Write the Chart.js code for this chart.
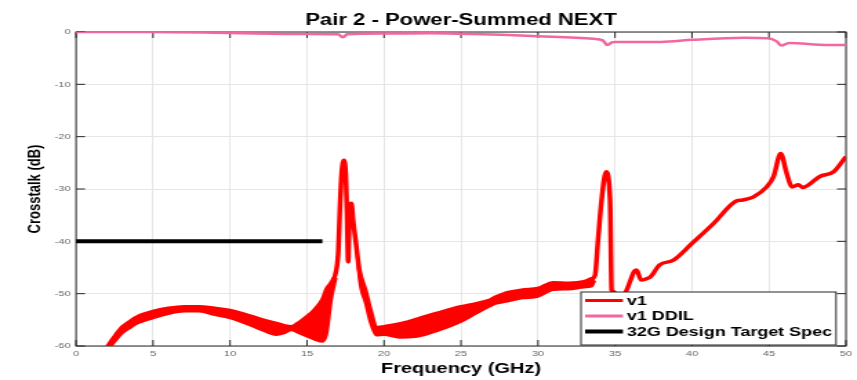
<!DOCTYPE html>
<html>
<head>
<meta charset="utf-8">
<script src="https://cdn.jsdelivr.net/npm/chart.js@4.4.1/dist/chart.umd.min.js"></script>
<style>
  html, body { margin: 0; padding: 0; background: #fff; }
</style>
</head>
<body>
<canvas id="psnext" width="621" height="380" style="display:block;width:857px;height:380px"></canvas>
<script>
// v1 crosstalk (upper edge of the ripple band where there is one)
const v1Freq = [1.85, 2.0, 2.5, 3.0, 3.5, 4.0, 5.0, 6.0, 7.0, 8.0, 9.0, 10.0, 11.0, 12.0, 13.0, 13.5, 14.0, 14.5,
  15.0, 15.5, 16.0, 16.3, 16.6, 16.9, 17.03, 17.14, 17.25, 17.4, 17.52, 17.6, 17.67, 17.74, 17.82, 17.88, 17.99,
  18.18, 18.4, 18.8, 19.1, 19.5, 20.0, 21.0, 22.0, 23.0, 24.0, 25.0, 26.0, 26.9, 27.3, 28.0, 29.0, 30.0, 31.0,
  32.0, 33.0, 33.5, 33.7, 33.9, 34.13, 34.42, 34.68, 34.78, 34.9, 35.2, 35.5, 35.76, 36.0, 36.2, 36.4, 36.7, 37.0,
  37.3, 37.9, 38.8, 40.0, 41.4, 42.8, 43.3, 44.0, 44.85, 45.3, 45.76, 46.15, 46.5, 46.9, 47.2, 48.3, 49.2, 50.0];
const v1Db = [-61, -60.3, -58.2, -56.4, -55.3, -54.4, -53.4, -52.8, -52.5, -52.5, -52.8, -53.2, -54.0, -54.9, -55.7, -56.1, -56.3, -55.5,
  -54.4, -53.1, -51.2, -49.0, -47.8, -45.5, -42.0, -33.4, -27.0, -24.5, -27.5, -35.0, -43.9, -37.0, -33.0, -32.7, -35.9,
  -40.4, -45.5, -49.5, -53.0, -56.5, -56.3, -55.8, -55.0, -54.1, -53.3, -52.5, -51.9, -51.2, -50.6, -49.8, -49.3, -49.0, -47.9,
  -48.0, -47.7, -47.1, -46.5, -39.7, -32.1, -26.7, -32.1, -49.3, -49.6, -50.5, -50.5, -49.3, -47.5, -46.0, -45.5, -47.4, -47.2,
  -46.8, -44.5, -43.6, -40.4, -36.6, -32.4, -32.1, -31.5, -29.6, -27.6, -23.2, -27.0, -29.6, -29.2, -29.7, -27.6, -26.7, -23.8];

// lower edge of the ripple band, below the peak and after it
const bandAFreq = [2.0, 2.5, 3.0, 3.5, 4.0, 5.0, 6.0, 7.0, 8.0, 9.0, 10.0, 11.0, 12.0, 13.0, 13.5, 14.0, 14.5, 15.0, 15.5, 16.0, 16.3, 16.6, 16.9];
const bandALow = [-61, -59.3, -57.6, -56.6, -55.7, -54.7, -53.9, -53.4, -53.4, -54.1, -54.7, -55.7, -56.9, -57.9, -57.6, -57.0, -57.6, -58.2, -58.8, -59.2, -57.6, -51.0, -47.0];
const bandBFreq = [18.2, 18.4, 18.8, 19.1, 19.5, 20.0, 21.0, 22.0, 23.0, 24.0, 25.0, 26.0, 26.9, 27.3, 28.0, 29.0, 30.0, 31.0, 32.0, 33.0, 33.5, 33.7];
const bandBLow = [-40.8, -47.5, -52.0, -55.5, -58.0, -57.9, -58.4, -58.3, -57.6, -56.6, -55.4, -53.8, -52.4, -51.9, -51.5, -50.9, -50.6, -49.3, -49.2, -48.8, -48.6, -47.5];

// v1 DDIL
const ddilFreq = [0, 5, 10, 15, 17.0, 17.35, 17.6, 20, 23, 25, 30, 33.6, 34.2, 34.5, 34.8, 35, 38, 40, 43.4, 44.9, 45.5, 45.8, 46.3, 48.8, 50];
const ddilDb = [0, 0, -0.2, -0.4, -0.45, -1.0, -0.45, -0.3, -0.25, -0.35, -0.8, -1.3, -1.6, -2.5, -2.0, -1.9, -1.9, -1.5, -1.1, -1.2, -1.8, -2.6, -2.1, -2.5, -2.5];

// 32G design target spec
const specFreq = [0, 16];
const specDb = [-40, -40];

const legendLabels = ['v1', 'v1 DDIL', '32G Design Target Spec'];
const legendColors = ['#ff0000', '#f2679f', '#000000'];

const pts = (xs, ys) => xs.map((x, i) => ({ x: x, y: ys[i] }));

Chart.defaults.font.family = "'Liberation Sans', Arial, Helvetica, sans-serif";

// MATLAB style box with inward ticks on all four sides
const boxTicks = {
  id: 'boxTicks',
  beforeDatasetsDraw(chart) {
    const { ctx, chartArea: a, scales: { x, y } } = chart;
    ctx.save();
    ctx.strokeStyle = '#262626';
    ctx.lineWidth = 1;
    ctx.strokeRect(a.left, a.top, a.right - a.left, a.bottom - a.top);
    ctx.beginPath();
    x.ticks.forEach(t => {
      const px = x.getPixelForValue(t.value);
      ctx.moveTo(px, a.bottom); ctx.lineTo(px, a.bottom - 6);
      ctx.moveTo(px, a.top); ctx.lineTo(px, a.top + 6);
    });
    y.ticks.forEach(t => {
      const py = y.getPixelForValue(t.value);
      ctx.moveTo(a.left, py); ctx.lineTo(a.left + 6.5, py);
      ctx.moveTo(a.right, py); ctx.lineTo(a.right - 6.5, py);
    });
    ctx.stroke();
    ctx.restore();
  }
};

// legend box in the lower right corner of the plot
const cornerLegend = {
  id: 'cornerLegend',
  afterDatasetsDraw(chart) {
    const { ctx, chartArea: a } = chart;
    const w = 184.8, h = 53;
    const right = a.right - 7.2, bottom = a.bottom - 1;
    const left = right - w, top = bottom - h;
    ctx.save();
    ctx.fillStyle = '#fff';
    ctx.fillRect(left, top, w, h);
    ctx.strokeStyle = '#262626';
    ctx.lineWidth = 1;
    ctx.strokeRect(left, top, w, h);
    const rows = [8.5, 24, 39.5];
    const widths = [3, 3, 4];
    ctx.font = "bold 13px 'Liberation Sans', Arial, sans-serif";
    ctx.textBaseline = 'middle';
    legendLabels.forEach((lab, i) => {
      const yy = top + rows[i];
      ctx.strokeStyle = legendColors[i];
      ctx.lineWidth = widths[i];
      ctx.beginPath();
      ctx.moveTo(left + 3, yy);
      ctx.lineTo(left + 30.4, yy);
      ctx.stroke();
      ctx.fillStyle = '#000';
      ctx.fillText(lab, left + 33.3, yy + 0.5);
    });
    ctx.restore();
  }
};

new Chart(document.getElementById('psnext'), {
  type: 'line',
  data: {
    datasets: [
      {
        label: 'v1',
        data: pts(v1Freq, v1Db),
        borderColor: '#ff0000',
        borderWidth: 3.5,
        pointRadius: 0,
        cubicInterpolationMode: 'monotone',
        fill: false,
        clip: 0
      },
      {
        label: 'v1 band',
        data: pts(bandAFreq, bandALow),
        borderColor: '#ff0000',
        backgroundColor: '#ff0000',
        borderWidth: 2,
        pointRadius: 0,
        cubicInterpolationMode: 'monotone',
        fill: 0,
        clip: 0
      },
      {
        label: 'v1 band 2',
        data: pts(bandBFreq, bandBLow),
        borderColor: '#ff0000',
        backgroundColor: '#ff0000',
        borderWidth: 2,
        pointRadius: 0,
        cubicInterpolationMode: 'monotone',
        fill: 0,
        clip: 0
      },
      {
        label: 'v1 DDIL',
        data: pts(ddilFreq, ddilDb),
        borderColor: '#f2679f',
        borderWidth: 2.5,
        pointRadius: 0,
        cubicInterpolationMode: 'monotone',
        fill: false
      },
      {
        label: '32G Design Target Spec',
        data: pts(specFreq, specDb),
        borderColor: '#000000',
        borderWidth: 4,
        pointRadius: 0,
        fill: false
      }
    ]
  },
  options: {
    responsive: false,
    animation: false,
    devicePixelRatio: 1,
    layout: { padding: { left: 0, right: 8, top: 0, bottom: 0 } },
    plugins: {
      legend: { display: false },
      tooltip: { enabled: false },
      title: {
        display: true,
        text: 'Pair 2 - Power-Summed NEXT',
        fullSize: false,
        color: '#000',
        font: { size: 16, weight: 'bold', lineHeight: 1.2 },
        padding: { top: 11, bottom: 1.8 }
      }
    },
    scales: {
      x: {
        type: 'linear',
        min: 0,
        max: 50,
        afterFit(scale) { scale.height = 34; },
        ticks: { stepSize: 5, color: '#666', font: { size: 8 }, padding: 3, maxRotation: 0 },
        grid: { color: '#e6e6e6', lineWidth: 1, drawTicks: false },
        border: { display: false },
        title: {
          display: true,
          text: 'Frequency (GHz)',
          color: '#000',
          font: { size: 14.5, weight: 'bold', lineHeight: 1.2 },
          padding: { top: 0, bottom: 2.3 }
        }
      },
      y: {
        min: -60,
        max: 0,
        afterFit(scale) { scale.width = 55.1; },
        ticks: { stepSize: 10, color: '#666', font: { size: 8 }, padding: 4 },
        grid: { color: '#e6e6e6', lineWidth: 1, drawTicks: false },
        border: { display: false },
        title: {
          display: true,
          text: 'Crosstalk (dB)',
          color: '#000',
          font: { size: 13, weight: 'bold', lineHeight: 1.2 },
          padding: { top: 17.6, bottom: 0 }
        }
      }
    }
  },
  plugins: [boxTicks, cornerLegend]
});
</script>
</body>
</html>
